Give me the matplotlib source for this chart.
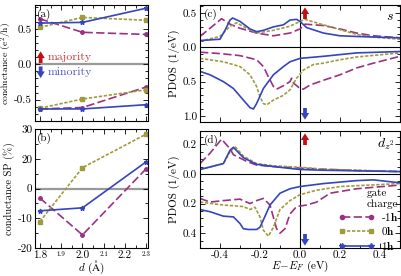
import numpy as np
import matplotlib
matplotlib.use("Agg")
import matplotlib.pyplot as plt
from matplotlib.lines import Line2D
from matplotlib.patches import FancyArrowPatch
from matplotlib.ticker import MultipleLocator, FuncFormatter, FixedLocator

plt.rcParams['font.family'] = ['cmr10', 'DejaVu Serif']
plt.rcParams['mathtext.fontset'] = 'cm'
plt.rcParams['axes.unicode_minus'] = False
plt.rcParams['font.size'] = 8

# colours
c_m = '#9b3182'
c_o = '#a09c3e'
c_b = '#3445bd'
c_r = '#c01010'
ls_m = (0, (5, 2))
ls_o = (0, (2, 1))
ls_b = '-'

# ---- conductance vs d ----
d = [1.8, 2.0, 2.3]
G_up_m = [0.64, 0.45, 0.42]
G_up_o = [0.52, 0.66, 0.62]
G_up_b = [0.58, 0.59, 0.79]
G_dn_m = [-0.63, -0.61, -0.32]
G_dn_o = [-0.62, -0.49, -0.36]
G_dn_b = [-0.63, -0.63, -0.57]
# SP as drawn (axis positions)
SP_m = [-3.2, -15.6, 6.7]
SP_o = [-11.1, 7.0, 18.3]
SP_b = [-7.5, -6.5, 9.0]
SP_ticks = [-20, -10, 0, 10, 20]
SP_ticklabels = ['-20', '-10', '0', '20', '30']

# ---- PDOS s ----
E_s_up_m = [-0.5, -0.45, -0.392, -0.35, -0.3, -0.217, -0.133, -0.05, 0.0, 0.025, 0.117, 0.2, 0.283, 0.367, 0.5]
s_up_m = [0.16, 0.28, 0.42, 0.34, 0.28, 0.21, 0.17, 0.21, 0.27, 0.34, 0.32, 0.27, 0.21, 0.17, 0.14]
E_s_up_o = [-0.5, -0.4, -0.35, -0.317, -0.267, -0.217, -0.133, -0.05, 0.0, 0.025, 0.117, 0.2, 0.283, 0.367, 0.5]
s_up_o = [0.09, 0.16, 0.31, 0.36, 0.28, 0.21, 0.25, 0.31, 0.38, 0.41, 0.33, 0.26, 0.19, 0.15, 0.12]
E_s_up_b = [-0.5, -0.4, -0.375, -0.35, -0.337, -0.3, -0.25, -0.217, -0.183, -0.133, -0.083, -0.05, -0.017, 0.0, 0.033, 0.117, 0.2, 0.283, 0.5]
s_up_b = [0.10, 0.12, 0.25, 0.40, 0.43, 0.38, 0.27, 0.23, 0.25, 0.30, 0.33, 0.40, 0.41, 0.38, 0.29, 0.21, 0.17, 0.16, 0.14]
E_s_dn_m = [-0.5, -0.4, -0.3, -0.217, -0.183, -0.158, -0.133, -0.117, -0.083, -0.05, -0.042, -0.033, 0.0, 0.017, 0.05, 0.117, 0.2, 0.283, 0.367, 0.5]
s_dn_m = [-0.07, -0.09, -0.12, -0.18, -0.28, -0.43, -0.57, -0.61, -0.56, -0.50, -0.45, -0.52, -0.60, -0.61, -0.55, -0.48, -0.40, -0.30, -0.23, -0.13]
E_s_dn_o = [-0.5, -0.383, -0.3, -0.25, -0.217, -0.2, -0.183, -0.167, -0.133, -0.083, -0.05, -0.017, 0.017, 0.067, 0.117, 0.2, 0.283, 0.5]
s_dn_o = [-0.16, -0.21, -0.28, -0.40, -0.57, -0.72, -0.82, -0.84, -0.77, -0.70, -0.62, -0.45, -0.33, -0.25, -0.23, -0.18, -0.14, -0.08]
E_s_dn_b = [-0.5, -0.45, -0.383, -0.333, -0.283, -0.25, -0.233, -0.217, -0.183, -0.133, -0.083, -0.05, 0.0, 0.117, 0.283, 0.5]
s_dn_b = [-0.35, -0.40, -0.50, -0.60, -0.77, -0.88, -0.90, -0.82, -0.60, -0.40, -0.28, -0.21, -0.16, -0.13, -0.08, -0.06]

# ---- PDOS dz2 ----
E_d_up_m = [-0.5, -0.45, -0.392, -0.35, -0.333, -0.267, -0.217, -0.133, 0.0, 0.117, 0.283, 0.5]
d_up_m = [0.07, 0.14, 0.235, 0.17, 0.13, 0.085, 0.06, 0.05, 0.04, 0.032, 0.023, 0.016]
E_d_up_o = [-0.5, -0.383, -0.35, -0.325, -0.283, -0.217, -0.133, 0.0, 0.117, 0.5]
d_up_o = [0.03, 0.07, 0.15, 0.185, 0.12, 0.07, 0.055, 0.045, 0.032, 0.016]
E_d_up_b = [-0.5, -0.383, -0.35, -0.333, -0.283, -0.217, -0.133, 0.0, 0.117, 0.5]
d_up_b = [0.03, 0.07, 0.16, 0.18, 0.11, 0.065, 0.05, 0.03, 0.025, 0.016]
E_d_dn_m = [-0.5, -0.45, -0.383, -0.3, -0.25, -0.217, -0.183, -0.15, -0.117, -0.1, -0.075, -0.05, -0.017, 0.033, 0.083, 0.15, 0.283, 0.5]
d_dn_m = [-0.165, -0.19, -0.18, -0.17, -0.20, -0.18, -0.165, -0.21, -0.37, -0.40, -0.37, -0.27, -0.22, -0.21, -0.19, -0.13, -0.10, -0.075]
E_d_dn_o = [-0.5, -0.383, -0.283, -0.25, -0.225, -0.2, -0.183, -0.158, -0.133, -0.1, -0.05, 0.0, 0.083, 0.2, 0.5]
d_dn_o = [-0.19, -0.21, -0.22, -0.24, -0.225, -0.29, -0.38, -0.42, -0.36, -0.24, -0.18, -0.14, -0.11, -0.085, -0.065]
E_d_dn_b = [-0.5, -0.45, -0.383, -0.333, -0.3, -0.283, -0.258, -0.217, -0.2, -0.183, -0.15, -0.1, -0.05, 0.0, 0.117, 0.283, 0.367, 0.5]
d_dn_b = [-0.24, -0.255, -0.285, -0.29, -0.335, -0.37, -0.375, -0.375, -0.36, -0.31, -0.21, -0.13, -0.10, -0.085, -0.065, -0.045, -0.04, -0.06]

gate_labels = [r'-1$\mathbf{h}$', r'0$\mathbf{h}$', r'1$\mathbf{h}$']

fig = plt.figure(figsize=(4.02, 2.76), dpi=100)
W, H = 402.0, 276.0
def box(l, t, r, b):
    return [l / W, 1 - b / H, (r - l) / W, (b - t) / H]

ax_a = fig.add_axes(box(35, 5, 148, 121))
ax_b = fig.add_axes(box(35, 129, 148, 248))
ax_c = fig.add_axes(box(200, 5, 400, 122))
ax_d = fig.add_axes(box(200, 131, 400, 248))

def style(ax):
    ax.tick_params(which='both', direction='in', top=True, right=True, width=0.6)
    ax.tick_params(which='major', length=3.5)
    ax.tick_params(which='minor', length=2)
    ax.tick_params(axis='y', pad=2)
    for s in ax.spines.values():
        s.set_linewidth(0.8)

def spin_arrow(ax, x, y0, y1, color):
    # small fat arrow, tail at y0 and tip at y1 (axes fraction)
    p = FancyArrowPatch((x, y0), (x, y1), transform=ax.transAxes,
                        arrowstyle='simple,head_width=1.0,head_length=0.8,tail_width=0.45',
                        mutation_scale=6, color=color, lw=0, shrinkA=0, shrinkB=0,
                        clip_on=False, zorder=5)
    ax.add_patch(p)

for ax in (ax_a, ax_b, ax_c, ax_d):
    style(ax)

lw = 1.2
# (a)
ax_a.axhline(0, color='#999999', lw=1.6, zorder=1)
ax_a.plot(d, G_up_m, color=c_m, ls=ls_m, lw=lw, marker='o', ms=2.5)
ax_a.plot(d, G_up_o, color=c_o, ls=ls_o, lw=lw, marker='s', ms=2.5)
ax_a.plot(d, G_up_b, color=c_b, ls=ls_b, lw=lw, marker='*', ms=3.5)
ax_a.plot(d, G_dn_m, color=c_m, ls=ls_m, lw=lw, marker='o', ms=2.5)
ax_a.plot(d, G_dn_o, color=c_o, ls=ls_o, lw=lw, marker='s', ms=2.5)
ax_a.plot(d, G_dn_b, color=c_b, ls=ls_b, lw=lw, marker='*', ms=3.5)
ax_a.set_xlim(1.777, 2.308)
ax_a.set_ylim(-0.8, 0.835)
ax_a.yaxis.set_major_locator(MultipleLocator(0.5))
ax_a.yaxis.set_minor_locator(MultipleLocator(0.1))
ax_a.xaxis.set_major_locator(MultipleLocator(0.1))
ax_a.xaxis.set_minor_locator(MultipleLocator(0.05))
ax_a.set_xticklabels([])
ax_a.set_ylabel(r'conductance (e$^2$/h)', fontsize=7)
ax_a.yaxis.set_label_coords(-0.185, 0.5)
ax_a.text(0.02, 0.97, '(a)', transform=ax_a.transAxes, va='top', ha='left')
spin_arrow(ax_a, 0.05, 0.50, 0.60, c_r)
spin_arrow(ax_a, 0.05, 0.47, 0.37, c_b)
ax_a.text(0.11, 0.55, 'majority', transform=ax_a.transAxes, color='#c83a3a', va='center', fontsize=8.5)
ax_a.text(0.11, 0.42, 'minority', transform=ax_a.transAxes, color='#5558c0', va='center', fontsize=8.5)

# (b)
ax_b.axhline(0, color='#999999', lw=1.6, zorder=1)
ax_b.plot(d, SP_m, color=c_m, ls=ls_m, lw=lw, marker='o', ms=2.5)
ax_b.plot(d, SP_o, color=c_o, ls=ls_o, lw=lw, marker='s', ms=2.5)
ax_b.plot(d, SP_b, color=c_b, ls=ls_b, lw=lw, marker='*', ms=3.5)
ax_b.set_xlim(1.777, 2.308)
ax_b.set_ylim(-20, 20)
ax_b.yaxis.set_major_locator(FixedLocator(SP_ticks))
ax_b.set_yticklabels(SP_ticklabels)
ax_b.yaxis.set_minor_locator(MultipleLocator(5))
ax_b.xaxis.set_major_locator(FixedLocator([1.8, 1.9, 2.0, 2.1, 2.2, 2.3]))
ax_b.xaxis.set_minor_locator(MultipleLocator(0.05))
ax_b.set_xticklabels(['1.8', '1.9', '2.0', '2.1', '2.2', '2.3'])
for i, t in enumerate(ax_b.get_xticklabels()):
    if i % 2 == 1:
        t.set_fontsize(5)
ax_b.tick_params(axis='x', pad=2)
ax_b.set_ylabel('conductance SP (%)', fontsize=7.5)
ax_b.yaxis.set_label_coords(-0.175, 0.5)
ax_b.set_xlabel(r'$d$ ($\mathrm{\AA}$)', labelpad=-1, fontsize=8)
ax_b.text(0.02, 0.97, '(b)', transform=ax_b.transAxes, va='top', ha='left')

# (c) and (d)
absfmt1 = FuncFormatter(lambda v, p: '%.1f' % abs(v))
for ax in (ax_c, ax_d):
    ax.axhline(0, color='black', lw=0.8, zorder=1)
    ax.axvline(0, color='black', lw=0.8, zorder=1)
    ax.set_xlim(-0.5, 0.5)
    ax.xaxis.set_major_locator(MultipleLocator(0.2))
    ax.xaxis.set_minor_locator(MultipleLocator(0.1))
    ax.yaxis.set_major_formatter(absfmt1)
    ax.set_ylabel('PDOS (1/eV)', fontsize=8, labelpad=2)
    spin_arrow(ax, 0.525, 0.88, 0.98, c_r)
    spin_arrow(ax, 0.525, 0.12, 0.02, c_b)

ax_c.plot(E_s_up_m, s_up_m, color=c_m, ls=ls_m, lw=lw)
ax_c.plot(E_s_up_o, s_up_o, color=c_o, ls=ls_o, lw=lw)
ax_c.plot(E_s_up_b, s_up_b, color=c_b, ls=ls_b, lw=lw)
ax_c.plot(E_s_dn_m, s_dn_m, color=c_m, ls=ls_m, lw=lw)
ax_c.plot(E_s_dn_o, s_dn_o, color=c_o, ls=ls_o, lw=lw)
ax_c.plot(E_s_dn_b, s_dn_b, color=c_b, ls=ls_b, lw=lw)
ax_c.set_ylim(-1.09, 0.62)
ax_c.yaxis.set_major_locator(MultipleLocator(0.5))
ax_c.yaxis.set_minor_locator(MultipleLocator(0.1))
ax_c.set_xticklabels([])
ax_c.text(0.02, 0.97, '(c)', transform=ax_c.transAxes, va='top', ha='left')
ax_c.text(0.97, 0.95, r'$s$', transform=ax_c.transAxes, va='top', ha='right', fontsize=10)

ax_d.plot(E_d_up_m, d_up_m, color=c_m, ls=ls_m, lw=lw)
ax_d.plot(E_d_up_o, d_up_o, color=c_o, ls=ls_o, lw=lw)
ax_d.plot(E_d_up_b, d_up_b, color=c_b, ls=ls_b, lw=lw)
ax_d.plot(E_d_dn_m, d_dn_m, color=c_m, ls=ls_m, lw=lw)
ax_d.plot(E_d_dn_o, d_dn_o, color=c_o, ls=ls_o, lw=lw)
ax_d.plot(E_d_dn_b, d_dn_b, color=c_b, ls=ls_b, lw=lw)
ax_d.set_ylim(-0.5, 0.29)
ax_d.yaxis.set_major_locator(MultipleLocator(0.2))
ax_d.yaxis.set_minor_locator(MultipleLocator(0.05))
ax_d.tick_params(axis='x', pad=2)
ax_d.set_xlabel(r'$E\!-\!E_F$ (eV)', labelpad=-1, fontsize=8)
ax_d.text(0.02, 0.97, '(d)', transform=ax_d.transAxes, va='top', ha='left')
ax_d.text(0.97, 0.95, r'$d_{z^2}$', transform=ax_d.transAxes, va='top', ha='right', fontsize=10)

handles = [
    Line2D([], [], color=c_m, ls=ls_m, lw=lw, marker='o', ms=3, markevery=[0]),
    Line2D([], [], color=c_o, ls=ls_o, lw=lw, marker='s', ms=3, markevery=[0]),
    Line2D([], [], color=c_b, ls=ls_b, lw=lw, marker='*', ms=4, markevery=[0]),
]
ax_d.legend(handles, gate_labels, loc='lower right', bbox_to_anchor=(1.0, -0.045),
            title='gate\ncharge', alignment='right',
            frameon=False, numpoints=2, handlelength=3.2, fontsize=8, title_fontsize=8,
            borderaxespad=0.0, labelspacing=0.2, handletextpad=0.6, borderpad=0.15)

fig.savefig('out.png', dpi=100)
